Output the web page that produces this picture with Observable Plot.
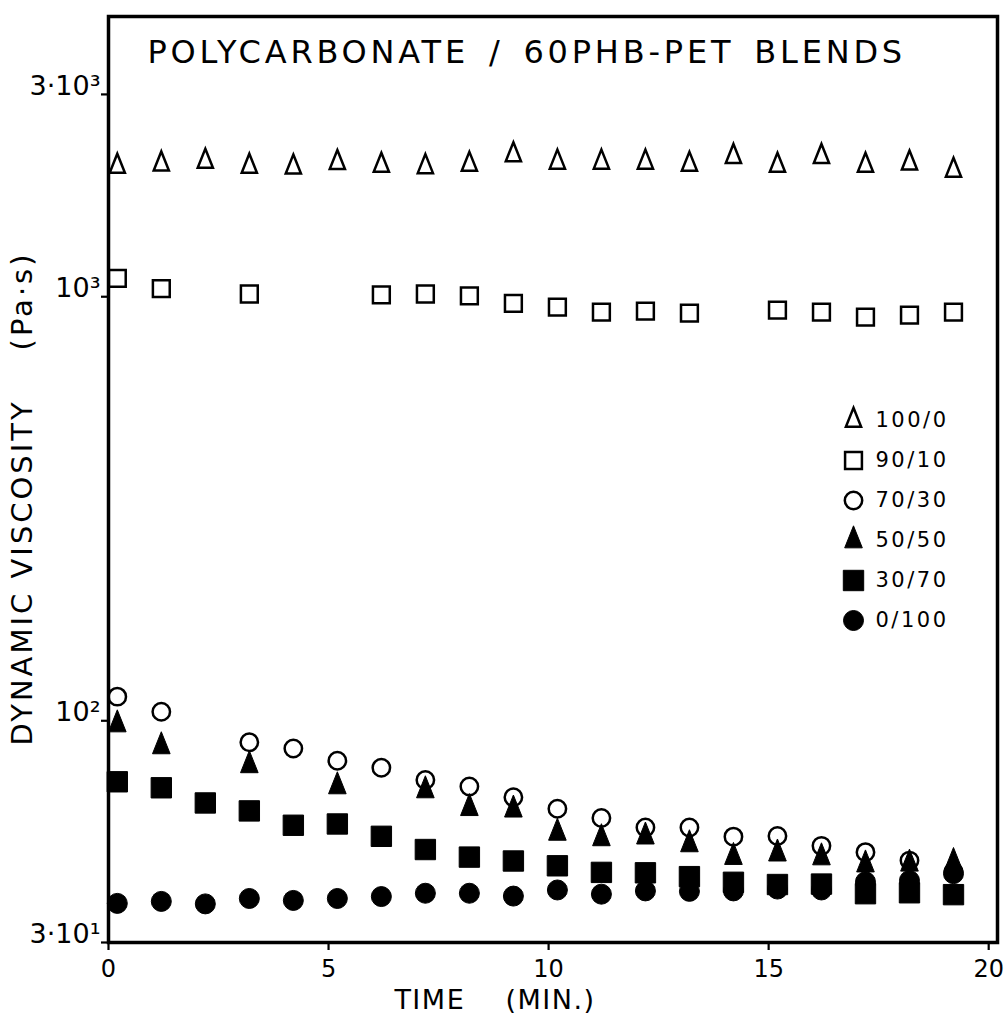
<!DOCTYPE html>
<html>
<head>
<meta charset="utf-8">
<script src="https://cdn.jsdelivr.net/npm/d3@7"></script>
<script src="https://cdn.jsdelivr.net/npm/@observablehq/plot@0.6"></script>
<style>
  html, body { margin: 0; padding: 0; background: #fff; }
  #chart svg { display: block; }
</style>
</head>
<body>
<div id="chart"></div>
<script>
// ---- data ----
const time = [0.2, 1.2, 2.2, 3.2, 4.2, 5.2, 6.2, 7.2, 8.2, 9.2, 10.2, 11.2, 12.2, 13.2, 14.2, 15.2, 16.2, 17.2, 18.2, 19.2];

const seriesNames = ["100/0", "90/10", "70/30", "50/50", "30/70", "0/100"];

const visc_100_0 = [2030, 2055, 2085, 2030, 2020, 2070, 2040, 2025, 2050, 2160, 2075, 2075, 2075, 2050, 2140, 2040, 2140, 2040, 2065, 1985];
const visc_90_10 = [1105, 1045, null, 1015, null, null, 1010, 1015, 1005, 965, 945, 920, 925, 915, null, 930, 920, 895, 905, 920];
const visc_70_30 = [114, 105, null, 89, 86, 80.5, 77.5, 72.5, 70, 66, 62, 59, 56, 56, 53.3, 53.5, 50.7, 49, 46.8, 44.1];
const visc_50_50 = [98, 87, null, 78.5, null, 70, null, 68.5, 62.2, 61.7, 54.4, 52.8, 53.3, 51.1, 47.7, 48.6, 47.6, 45.8, 46, 46.4];
const visc_30_70 = [71.8, 69.5, 64, 61.3, 56.7, 57.1, 53.4, 49.7, 47.7, 46.7, 45.5, 43.9, 43.8, 42.9, 41.6, 41.1, 41.2, 39.1, 39.3, 38.9];
const visc_0_100 = [37.1, 37.5, 37, 38.1, 37.7, 38.1, 38.5, 39.2, 39.2, 38.6, 39.9, 39, 39.7, 39.6, 39.7, 40.1, 39.9, 41.7, 42, 43.6];

const seriesValues = [visc_100_0, visc_90_10, visc_70_30, visc_50_50, visc_30_70, visc_0_100];

const xTicks = [0, 5, 10, 15, 20];
const xTickLabels = ["0", "5", "10", "15", "20"];
const yTicks = [30, 100, 1000, 3000];
const yTickLabels = ["3·10¹", "10²", "10³", "3·10³"];

const titleText = "POLYCARBONATE / 60PHB-PET BLENDS";
const xLabel = "TIME\u00a0\u00a0\u00a0\u00a0(MIN.)";
const yLabel = "DYNAMIC VISCOSITY\u00a0\u00a0\u00a0\u00a0(Pa·s)";

// ---- styles ----
const triangle = {
  draw(ctx, size) {
    const r = Math.sqrt(size / Math.PI);
    const h = 2 * r, w = 1.6 * r;
    ctx.moveTo(0, -2 * h / 3);
    ctx.lineTo(w / 2, h / 3);
    ctx.lineTo(-w / 2, h / 3);
    ctx.closePath();
  }
};
const seriesStyles = [
  {symbol: triangle, r: 9.5, filled: false},
  {symbol: "square", r: 9.5, filled: false},
  {symbol: "circle", r: 8.7, filled: false},
  {symbol: triangle, r: 11, filled: true},
  {symbol: "square", r: 11.5, filled: true},
  {symbol: "circle", r: 10, filled: true}
];

// ---- table ----
const rows = seriesNames.flatMap((name, k) =>
  time.map((t, i) => ({series: name, t, v: seriesValues[k][i]})).filter(d => d.v != null)
);

const dotStyle = st => ({
  symbol: st.symbol,
  r: st.r,
  fill: st.filled ? "black" : "none",
  stroke: "black",
  strokeWidth: st.filled ? 1 : 2.5
});

const marks = [];

// data points
seriesNames.forEach((name, k) => {
  marks.push(Plot.dot(rows.filter(d => d.series === name), {x: "t", y: "v", ...dotStyle(seriesStyles[k])}));
});

// legend inside the plot frame
seriesNames.forEach((name, k) => {
  marks.push(Plot.dot([name], {frameAnchor: "top-left", dx: 745, dy: 404 + k * 40, ...dotStyle(seriesStyles[k])}));
  marks.push(Plot.text([name], {frameAnchor: "top-left", dx: 767, dy: 404 + k * 40, text: d => d,
    textAnchor: "start", lineAnchor: "middle", fontSize: 21, fill: "black"}));
});

// title
marks.push(Plot.text([titleText], {frameAnchor: "top-left", dx: 39, dy: 36, text: d => d,
  textAnchor: "start", lineAnchor: "middle", fontSize: 32, fill: "black"}));

// axis labels
marks.push(Plot.text([xLabel], {frameAnchor: "bottom", dx: -58, dy: 58, text: d => d,
  textAnchor: "middle", lineAnchor: "middle", fontSize: 27, fill: "black"}));
marks.push(Plot.text([yLabel], {frameAnchor: "left", dx: -86, dy: 19, rotate: -90, text: d => d,
  textAnchor: "middle", lineAnchor: "middle", fontSize: 29, fill: "black"}));

// axes
marks.push(Plot.axisX(xTicks, {tickSize: 8, tickPadding: 9, strokeWidth: 2.2, fontSize: 24,
  tickFormat: d => xTickLabels[xTicks.indexOf(d)], label: null}));
marks.push(Plot.axisY(yTicks, {tickSize: 7, strokeWidth: 2.2, tickFormat: () => "", label: null}));
marks.push(Plot.axisY(yTicks, {tickSize: 0, tickPadding: 8, dy: -8, fontSize: 27,
  tickFormat: d => yTickLabels[yTicks.indexOf(d)], label: null}));

marks.push(Plot.frame({stroke: "black", strokeWidth: 3.5}));

const chart = Plot.plot({
  width: 1006,
  height: 1034,
  marginLeft: 108,
  marginRight: 9,
  marginTop: 16,
  marginBottom: 92,
  x: {domain: [0, 20.2]},
  y: {type: "log", domain: [30, 4580]},
  style: {fontFamily: "DejaVu Sans", color: "black", background: "white", overflow: "visible"},
  marks
});

// letter spacing for the hand-lettered look
const allText = d3.select(chart).selectAll("text");
const spacing = [
  [titleText, "3.8px", "6px"],
  [yLabel, "3px", "0px"],
  [xLabel, "1.5px", "0px"]
];
spacing.forEach(([s, ls, ws]) => {
  allText.filter(function () { return this.textContent === s; })
    .style("letter-spacing", ls).style("word-spacing", ws);
});
allText.filter(function () { return seriesNames.includes(this.textContent); })
  .style("letter-spacing", "2.5px");

document.getElementById("chart").appendChild(chart);
</script>
</body>
</html>
